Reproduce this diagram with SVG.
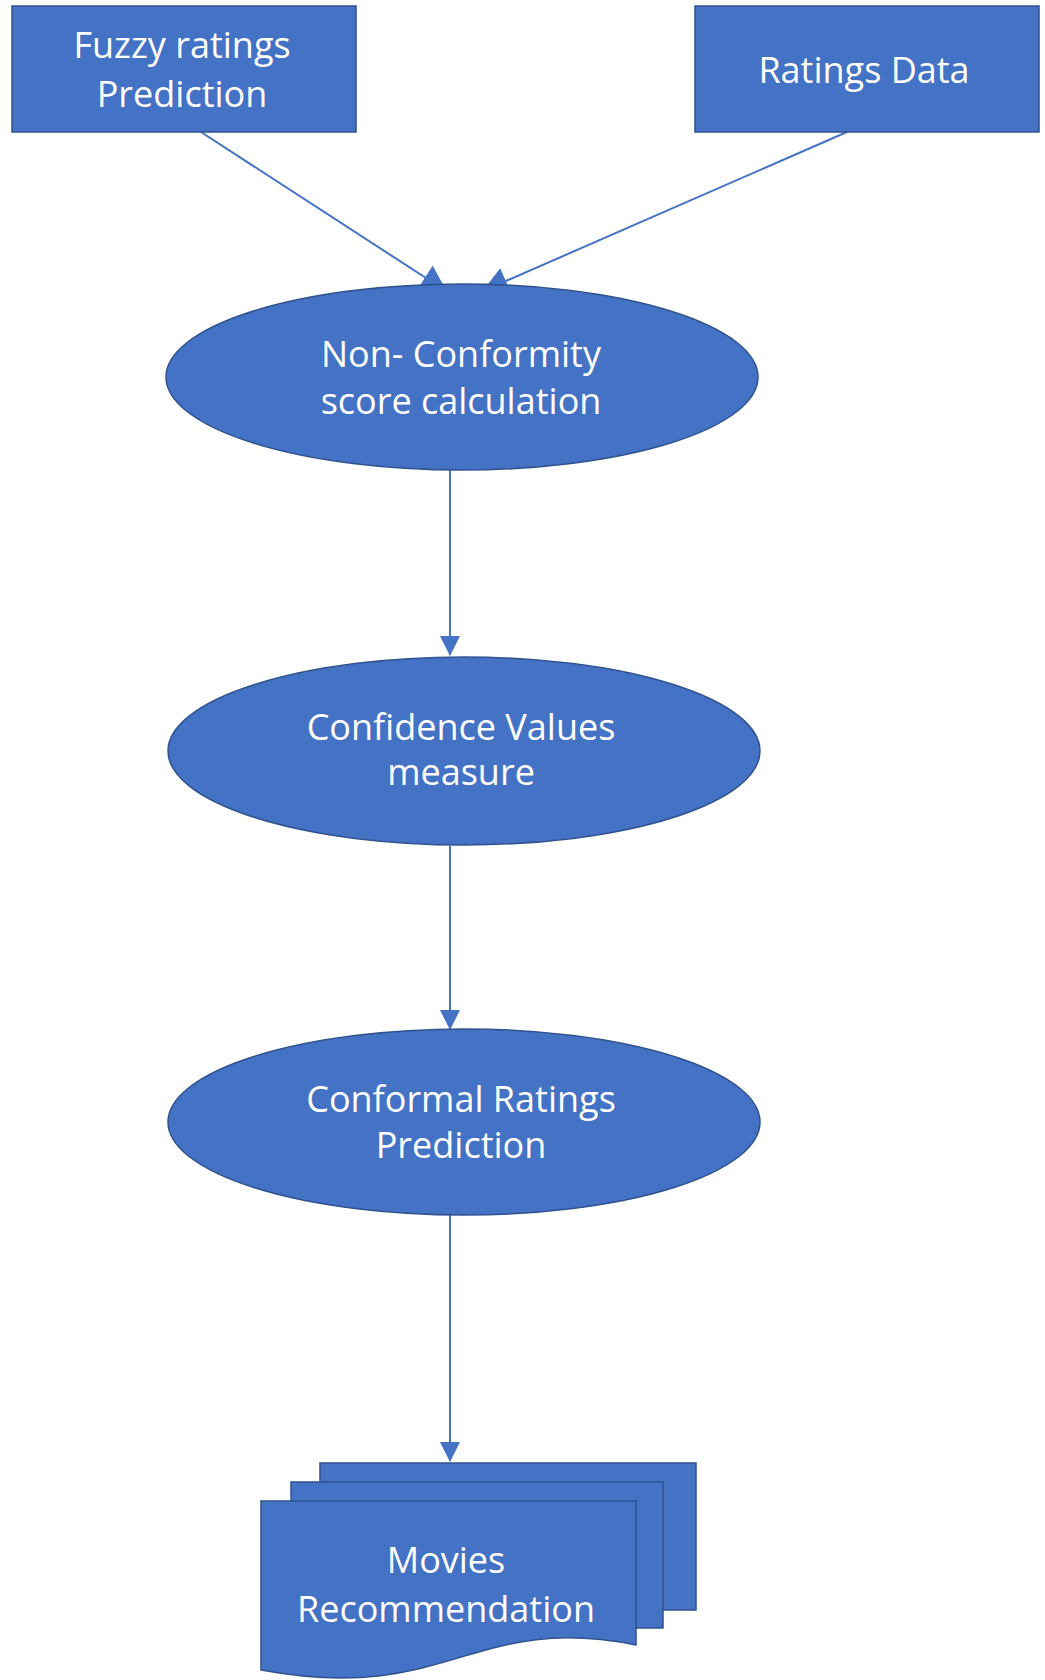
<svg xmlns="http://www.w3.org/2000/svg" width="1045" height="1680" viewBox="0 0 1045 1680">
<style>
.shape{fill:#4472C4;stroke:#2F528F;stroke-width:1.5}
.lbl{font-family:"Open Sans","Liberation Sans",sans-serif;font-size:36px;fill:#FFFFFF;text-anchor:middle}
.conn{stroke:#4472C4;stroke-width:2;fill:none}
</style>
<defs>
<marker id="arr" markerUnits="userSpaceOnUse" markerWidth="26" markerHeight="28" viewBox="0 0 26 28" refX="25" refY="14" orient="auto">
<path d="M0,0 L26,14 L0,28 Z" fill="#4472C4"/>
</marker>
<marker id="arrv" markerUnits="userSpaceOnUse" markerWidth="20" markerHeight="22" viewBox="0 0 20 22" refX="19" refY="11" orient="auto">
<path d="M0,1 L20,11 L0,21 Z" fill="#4472C4"/>
</marker>
</defs>
<rect width="1045" height="1680" fill="#FFFFFF"/>
<g id="connectors">
<line class="conn" x1="201" y1="132" x2="446" y2="291" marker-end="url(#arr)"/>
<line class="conn" x1="847" y1="132" x2="483" y2="291" marker-end="url(#arr)"/>
<line class="conn" x1="450" y1="469" x2="450" y2="655" marker-end="url(#arrv)"/>
<line class="conn" x1="450" y1="846" x2="450" y2="1029" marker-end="url(#arrv)"/>
<line class="conn" x1="450" y1="1214" x2="450" y2="1461" marker-end="url(#arrv)"/>
</g>
<g id="fuzzy">
<rect class="shape" x="12" y="6" width="344" height="126"/>
<text class="lbl" x="182" y="58">Fuzzy ratings</text>
<text class="lbl" x="182" y="107">Prediction</text>
</g>
<g id="ratings">
<rect class="shape" x="695" y="6" width="344" height="126"/>
<text class="lbl" x="864" y="83">Ratings Data</text>
</g>
<g id="nonconformity">
<ellipse class="shape" cx="462" cy="377" rx="296" ry="93"/>
<text class="lbl" x="461" y="367">Non- Conformity</text>
<text class="lbl" x="461" y="414">score calculation</text>
</g>
<g id="confidence">
<ellipse class="shape" cx="464" cy="751" rx="296" ry="94"/>
<text class="lbl" x="461" y="740">Confidence Values</text>
<text class="lbl" x="461" y="785">measure</text>
</g>
<g id="conformal">
<ellipse class="shape" cx="464" cy="1122" rx="296" ry="93"/>
<text class="lbl" x="461" y="1112">Conformal Ratings</text>
<text class="lbl" x="461" y="1158">Prediction</text>
</g>
<g id="movies">
<rect class="shape" x="320" y="1463" width="376" height="147"/>
<rect class="shape" x="291" y="1482" width="372" height="146"/>
<path class="shape" d="M261,1501 H636 V1645 C470,1612 450,1705 261,1670 Z"/>
<text class="lbl" x="446" y="1573">Movies</text>
<text class="lbl" x="446" y="1622">Recommendation</text>
</g>
</svg>
